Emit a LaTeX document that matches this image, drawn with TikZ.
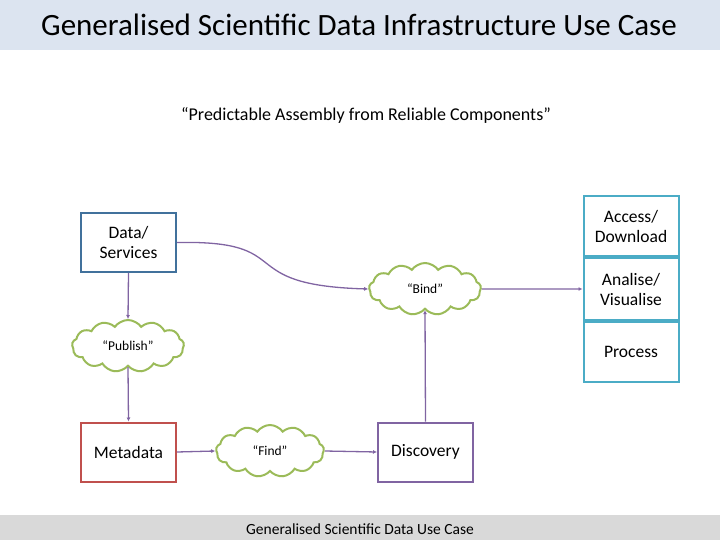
\documentclass[tikz,border=0pt]{standalone}
\usepackage{fontspec}
\setmainfont{Carlito}
\usetikzlibrary{shapes.symbols,arrows.meta,positioning}
\definecolor{bluebox}{RGB}{65,113,156}
\definecolor{redbox}{RGB}{192,80,77}
\definecolor{purplebox}{RGB}{128,100,162}
\definecolor{tealbox}{RGB}{75,172,198}
\definecolor{cloudgreen}{RGB}{155,187,89}
\definecolor{titleband}{RGB}{220,228,240}
\definecolor{footband}{RGB}{217,217,217}
\tikzset{
	box/.style={draw,line width=2pt,minimum width=95pt,minimum height=59pt,align=center,font=\fontsize{17.5}{20}\selectfont,fill=white},
	cloudy/.style={cloud,cloud puffs=13,cloud puff arc=110,aspect=2.3,draw=cloudgreen,line width=2pt,fill=white,minimum width=112pt,minimum height=52pt,font=\fontsize{13.5}{15}\selectfont},
	link/.style={-{Latex[length=4pt,width=4pt]},color=purplebox,line width=1.3pt}
}
\begin{document}
\begin{tikzpicture}[x=1pt,y=-1pt]
	\useasboundingbox (0,0) rectangle (720,540);
	\fill[titleband] (0,0) rectangle (720,50);
	\fill[footband] (0,515) rectangle (720,540);
	\node[font=\fontsize{31}{34}\selectfont] (title) at (359,25) {Generalised Scientific Data Infrastructure Use Case};
	\node[font=\fontsize{18}{20}\selectfont] (motto) at (366,115) {“Predictable Assembly from Reliable Components”};
	\node[font=\fontsize{15.5}{17}\selectfont] (foot) at (360,529) {Generalised Scientific Data Use Case};
	%%%boxes
	\node[box,draw=bluebox] (data) at (128.5,242.5) {Data/\\Services};
	\node[box,draw=redbox] (meta) at (128.5,452) {Metadata};
	\node[box,draw=purplebox] (disc) at (425.5,452) {Discovery};
	\node[box,draw=tealbox,minimum height=60pt] (access) at (631,226) {Access/\\Download};
	\node[box,draw=tealbox,minimum height=62pt,below=0pt of access] (anal) {Analise/\\Visualise};
	\node[box,draw=tealbox,minimum height=60pt,below=0pt of anal] (proc) {Process};
	%%%clouds
	\node[cloudy] (bind) at (425,289) {“Bind”};
	\node[cloudy] (pub) at (128,346) {“Publish”};
	\node[cloudy,minimum width=108pt] (find) at (270,451) {“Find”};
	%%%links
	\draw[link] (data.east) .. controls (300,240) and (230,285) .. (bind.west);
	\draw[link] (bind.east) -- (anal.west);
	\draw[link] (disc.north) -- (bind.south);
	\draw[link] (data.south) -- (pub.north);
	\draw[link] (pub.south) -- (meta.north);
	\draw[link] (meta.east) -- (find.west);
	\draw[link] (find.east) -- (disc.west);
\end{tikzpicture}
\end{document}
